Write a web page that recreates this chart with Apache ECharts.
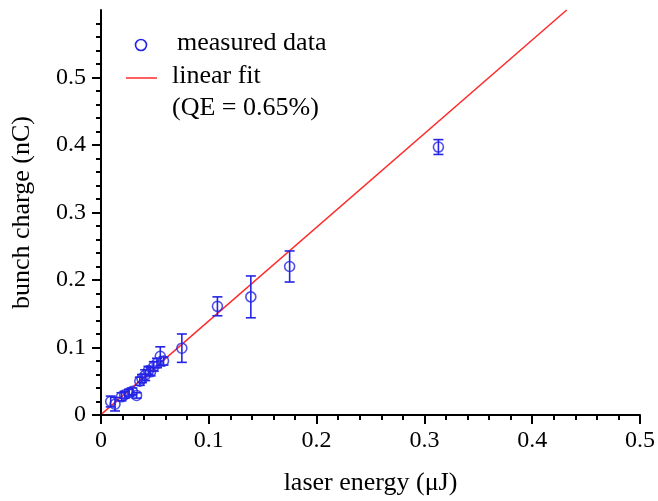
<!DOCTYPE html>
<html>
<head>
<meta charset="utf-8">
<script src="https://cdn.jsdelivr.net/npm/echarts@6/dist/echarts.min.js"></script>
<style>html,body{margin:0;padding:0;background:#fff}#c{width:658px;height:501px}</style>
</head>
<body>
<div id="c"></div>
<script>
// measured data (laser energy in uJ, bunch charge in nC, error in nC)
const energy   = [0.009, 0.013, 0.019, 0.022, 0.026, 0.029, 0.033, 0.036, 0.038, 0.041, 0.044, 0.046, 0.049, 0.052, 0.055, 0.058, 0.075, 0.108, 0.139, 0.175, 0.313];
const charge   = [0.020, 0.016, 0.027, 0.030, 0.033, 0.035, 0.029, 0.050, 0.054, 0.059, 0.066, 0.064, 0.072, 0.077, 0.087, 0.080, 0.099, 0.161, 0.175, 0.220, 0.397];
const chargeErr= [0.008, 0.010, 0.006, 0.005, 0.005, 0.005, 0.004, 0.006, 0.006, 0.008, 0.006, 0.006, 0.007, 0.007, 0.014, 0.006, 0.021, 0.014, 0.031, 0.023, 0.011];
// linear fit endpoints
const fitX = [0.001, 0.432];
const fitY = [0.002, 0.600];
// tick labels
const xTicks = [0, 0.1, 0.2, 0.3, 0.4, 0.5];
const yTicks = [0, 0.1, 0.2, 0.3, 0.4, 0.5];

const BLUE = '#2424e6';
const RED = '#ff2a2a';
const FONT = '"Liberation Serif", "Times New Roman", serif';

const points = energy.map((x, i) => [x, charge[i]]);
const bars = energy.map((x, i) => [x, charge[i] - chargeErr[i], charge[i] + chargeErr[i]]);
const fitLine = fitX.map((x, i) => [x, fitY[i]]);

const chart = echarts.init(document.getElementById('c'), null, {renderer: 'canvas'});
chart.setOption({
  animation: false,
  backgroundColor: '#fff',
  grid: {left: 101, right: 15, top: 10, bottom: 82, containLabel: false},
  xAxis: {
    type: 'value', min: 0, max: 0.5, interval: 0.1,
    axisLine: {show: true, onZero: false, lineStyle: {color: '#000', width: 2}},
    axisTick: {show: true, inside: false, length: 9, lineStyle: {color: '#000', width: 2}, customValues: xTicks},
    minorTick: {show: true, splitNumber: 5, length: 5, lineStyle: {color: '#000', width: 2}},
    splitLine: {show: false},
    axisLabel: {customValues: xTicks, margin: 14, color: '#000', fontFamily: FONT, fontSize: 24,
      formatter: v => String(Math.round(v * 10) / 10)},
    name: 'laser energy (\u03bcJ)', nameLocation: 'middle', nameGap: 55,
    nameTextStyle: {color: '#000', fontFamily: FONT, fontSize: 26}
  },
  yAxis: {
    type: 'value', min: 0, max: 0.6, interval: 0.1,
    axisLine: {show: true, onZero: false, lineStyle: {color: '#000', width: 2}},
    axisTick: {show: true, inside: false, length: 9, lineStyle: {color: '#000', width: 2}, customValues: yTicks},
    minorTick: {show: true, splitNumber: 5, length: 5, lineStyle: {color: '#000', width: 2}},
    splitLine: {show: false},
    axisLabel: {customValues: yTicks, margin: 15, color: '#000', fontFamily: FONT, fontSize: 24,
      formatter: v => String(Math.round(v * 10) / 10)},
    name: 'bunch charge (nC)', nameLocation: 'middle', nameGap: 66, nameRotate: 90,
    nameTextStyle: {color: '#000', fontFamily: FONT, fontSize: 26}
  },
  series: [
    {
      type: 'line', data: fitLine, symbol: 'none', silent: true,
      lineStyle: {color: RED, width: 1.5}, z: 2
    },
    {
      type: 'custom', data: bars, z: 3,
      renderItem: function (params, api) {
        const x = api.value(0);
        const lo = api.coord([x, api.value(1)]);
        const hi = api.coord([x, api.value(2)]);
        const hw = 5;
        const style = {stroke: BLUE, lineWidth: 1.6};
        return {
          type: 'group',
          children: [
            {type: 'line', shape: {x1: lo[0], y1: lo[1], x2: hi[0], y2: hi[1]}, style: style},
            {type: 'line', shape: {x1: lo[0] - hw, y1: lo[1], x2: lo[0] + hw, y2: lo[1]}, style: style},
            {type: 'line', shape: {x1: hi[0] - hw, y1: hi[1], x2: hi[0] + hw, y2: hi[1]}, style: style}
          ]
        };
      }
    },
    {
      type: 'scatter', data: points, symbol: 'circle', symbolSize: 10, z: 4,
      itemStyle: {color: 'rgba(0,0,0,0)', borderColor: BLUE, borderWidth: 1.6}
    }
  ],
  graphic: [
    {type: 'circle', shape: {cx: 141, cy: 45, r: 5.5}, style: {fill: 'none', stroke: BLUE, lineWidth: 1.6}},
    {type: 'text', left: 177, top: 30, style: {text: 'measured data', fill: '#000', font: '26px ' + FONT}},
    {type: 'line', shape: {x1: 126, y1: 78, x2: 157, y2: 78}, style: {stroke: RED, lineWidth: 1.5}},
    {type: 'text', left: 172, top: 63, style: {text: 'linear fit', fill: '#000', font: '26px ' + FONT}},
    {type: 'text', left: 172, top: 95, style: {text: '(QE = 0.65%)', fill: '#000', font: '26px ' + FONT}}
  ]
});
</script>
</body>
</html>
